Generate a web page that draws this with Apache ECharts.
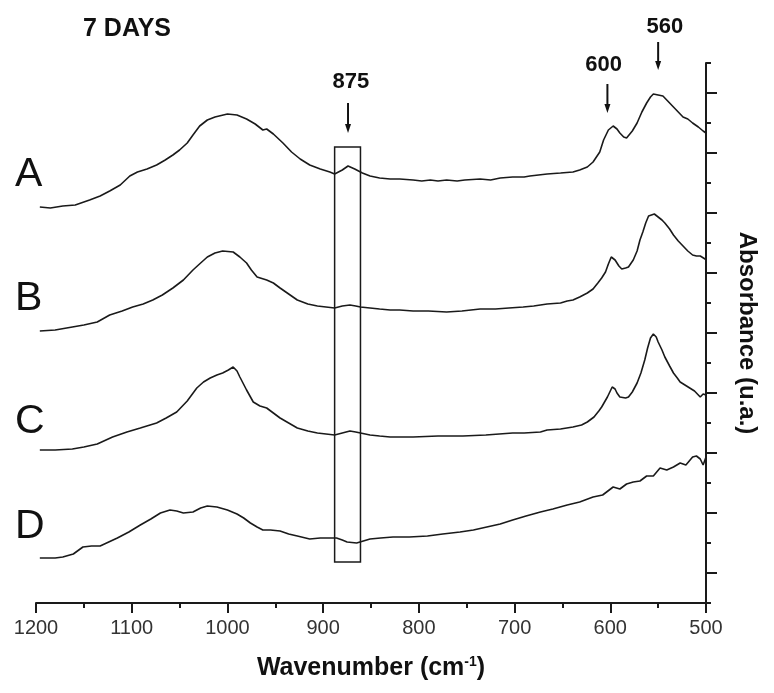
<!DOCTYPE html>
<html>
<head>
<meta charset="utf-8">
<script src="https://cdn.jsdelivr.net/npm/echarts@6/dist/echarts.min.js"></script>
<style>
html,body{margin:0;padding:0;background:#fff;}
#chart{width:774px;height:693px;}
</style>
</head>
<body>
<div id="chart"></div>
<script>
// ---------- data ----------
const xTicks = [1200, 1100, 1000, 900, 800, 700, 600, 500];
const curveNames = ['A', 'B', 'C', 'D'];

const wnA = [1196,1185,1172,1159,1144,1133,1123,1112,1102,1094,
  1084,1074,1065,1057,1050,1042,1036,1029,1021,1013,
  1000,990,980,971,963,959,952,942,933,924,
  914,903,893,888,880,874,867,859,851,841,
  830,820,806,797,788,780,771,760,752,736,
  725,715,702,690,684,666,652,639,632,624,
  618,611,607,602,597,593,590,586,583,577,
  572,567,562,558,555,550,545,540,534,529,
  524,519,514,508,503,500];
const absA = [396,395,397,398,403,407,412,418,427,431,
  434,438,443,448,453,460,468,477,483,486,
  489,488,484,479,473,474,469,460,451,444,
  438,434,431,429,433,437,434,430,427,425,
  424,424,423,422,423,422,423,422,423,424,
  423,425,426,426,427,429,430,431,433,436,
  441,451,463,473,477,474,470,466,465,472,
  480,491,500,506,509,508,507,502,496,491,
  486,484,480,476,472,470];

const wnB = [1196,1180,1162,1150,1136,1123,1110,1099,1088,1078,
  1068,1057,1046,1036,1028,1021,1013,1005,994,987,
  980,975,969,959,952,945,936,927,916,906,
  897,888,880,872,866,861,851,841,830,820,
  806,790,771,755,736,720,706,691,680,673,
  666,652,645,639,632,624,618,613,609,605,
  602,599,595,591,588,584,581,576,572,569,
  566,563,560,558,554,550,546,543,538,534,
  529,524,519,514,510,506,501,500];
const absB = [272,273,276,278,281,288,292,296,299,303,
  308,315,323,333,340,346,350,352,351,346,
  340,333,326,323,320,315,309,303,299,297,
  296,295,297,298,297,296,295,294,293,293,
  292,292,291,292,294,294,295,296,297,298,
  299,300,302,303,306,310,314,320,325,331,
  339,346,343,337,334,335,336,343,352,363,
  371,380,387,389,389,386,383,380,374,368,
  362,357,352,348,347,347,344,343];

const wnC = [1196,1180,1162,1150,1136,1120,1105,1091,1074,1064,
  1053,1042,1032,1025,1018,1011,1005,999,994,990,
  987,980,973,966,959,952,945,936,927,916,
  906,897,888,880,872,866,861,851,841,830,
  820,806,780,754,730,702,690,673,666,652,
  639,630,624,617,612,609,606,603,600,598,
  595,593,590,588,584,581,577,572,568,564,
  561,558,555,552,550,546,543,538,534,530,
  527,522,517,512,506,503,501,500];
const absC = [153,153,154,156,159,166,171,175,180,185,
  191,202,215,221,225,228,230,233,236,232,
  226,213,201,197,195,190,185,180,175,172,
  170,169,168,170,172,171,170,168,167,166,
  166,166,167,167,168,170,170,171,173,174,
  176,178,181,186,192,196,201,206,212,216,
  214,210,206,204,205,206,211,220,230,243,
  255,265,269,266,261,253,246,237,230,225,
  221,218,215,212,206,209,210,208];

const wnD = [1196,1180,1172,1161,1151,1142,1133,1124,1115,1103,
  1091,1080,1070,1060,1053,1046,1036,1028,1021,1011,
  1000,990,983,976,969,963,955,945,936,927,
  914,903,893,886,880,875,865,858,851,840,
  827,810,791,775,757,743,729,715,702,688,
  673,660,645,632,618,608,597,590,583,576,
  569,562,555,548,541,534,527,521,514,510,
  506,503,500];
const absD = [45,45,46,49,56,57,57,61,65,71,
  78,84,90,93,92,90,91,95,97,96,
  93,89,85,80,76,73,73,72,69,67,
  64,65,65,65,63,61,60,62,64,65,
  66,66,67,69,71,73,76,79,83,87,
  91,94,98,101,106,108,116,114,119,121,
  122,127,127,135,133,136,140,138,146,147,
  144,138,146];

// annotations: arrow wavenumber, arrow top, arrow tip, label wavenumber, label level
const peakLabels = ['875', '600', '560'];
const arrowWn = [874, 603, 550];
const arrowTop = [500, 519, 561];
const arrowTip = [470, 490, 533];
const labelWn = [871, 607, 543];
const labelLevel = [521, 538, 576];
// highlighted 875 band box: [wn start, wn end, low, high]
const boxRange = [888, 861, 41, 456];

// ---------- chart ----------
const FONT = '"Liberation Sans", Arial, Helvetica, sans-serif';
const INK = '#1a1a1a';
const chart = echarts.init(document.getElementById('chart'), null, {renderer: 'canvas'});

const curves = [[wnA, absA], [wnB, absB], [wnC, absC], [wnD, absD]];
const lineSeries = curves.map((c, k) => ({
  name: curveNames[k],
  type: 'line',
  data: c[0].map((w, i) => [w, c[1][i]]),
  symbol: 'none',
  smooth: false,
  silent: true,
  lineStyle: {color: INK, width: 1.6},
  animation: false
}));
lineSeries[0].markArea = {
  silent: true,
  itemStyle: {color: 'rgba(0,0,0,0)', borderColor: INK, borderWidth: 1.5},
  data: [[{coord: [boxRange[0], boxRange[2]]}, {coord: [boxRange[1], boxRange[3]]}]]
};

const annData = arrowWn.map((w, i) => [w, arrowTop[i], arrowTip[i], labelWn[i], labelLevel[i]]);

const option = {
  backgroundColor: '#fff',
  animation: false,
  title: {
    text: '7 DAYS',
    left: 83, top: 17, padding: 0,
    textStyle: {fontFamily: FONT, fontSize: 25, fontWeight: 'bold', color: '#111'}
  },
  grid: {left: 36, right: 68, top: 63, bottom: 90, containLabel: false},
  xAxis: {
    type: 'value',
    inverse: true,
    min: 500, max: 1200, interval: 100,
    axisLine: {show: true, lineStyle: {color: INK, width: 2}},
    axisTick: {show: true, length: 10, lineStyle: {color: INK, width: 2}},
    minorTick: {show: true, splitNumber: 2, length: 5, lineStyle: {color: INK, width: 2}},
    splitLine: {show: false},
    minorSplitLine: {show: false},
    axisLabel: {
      fontFamily: FONT, fontSize: 20, color: '#333', margin: 15,
      formatter: v => xTicks.indexOf(v) >= 0 ? String(v) : ''
    },
    name: 'Wavenumber (cm{sup|-1})',
    nameLocation: 'middle',
    nameGap: 52,
    nameTextStyle: {
      fontFamily: FONT, fontSize: 25, fontWeight: 'bold', color: '#111',
      rich: {sup: {fontFamily: FONT, fontSize: 14, fontWeight: 'bold', color: '#111', verticalAlign: 'top', padding: [0, 0, 12, 0]}}
    }
  },
  yAxis: {
    type: 'value',
    position: 'right',
    min: 0, max: 540, interval: 60,
    axisLine: {show: true, onZero: false, lineStyle: {color: INK, width: 2}},
    axisTick: {show: true, length: 5, lineStyle: {color: INK, width: 2}},
    minorTick: {show: true, splitNumber: 2, length: 11, lineStyle: {color: INK, width: 2}},
    splitLine: {show: false},
    minorSplitLine: {show: false},
    axisLabel: {show: false},
    name: 'Absorbance (u.a.)',
    nameLocation: 'middle',
    nameRotate: -90,
    nameGap: 29,
    nameTextStyle: {fontFamily: FONT, fontSize: 24, fontWeight: 'bold', color: '#111'}
  },
  graphic: [
    {type: 'text', left: 15, top: 154, style: {text: 'A', fontFamily: FONT, fontSize: 41, fill: '#111'}},
    {type: 'text', left: 15, top: 278, style: {text: 'B', fontFamily: FONT, fontSize: 41, fill: '#111'}},
    {type: 'text', left: 15, top: 401, style: {text: 'C', fontFamily: FONT, fontSize: 41, fill: '#111'}},
    {type: 'text', left: 15, top: 506, style: {text: 'D', fontFamily: FONT, fontSize: 41, fill: '#111'}}
  ],
  series: lineSeries.concat([{
    type: 'custom',
    clip: false,
    silent: true,
    data: annData,
    encode: {x: 0, y: 1},
    renderItem: function (params, api) {
      const i = params.dataIndex;
      const p1 = api.coord([api.value(0), api.value(1)]);
      const p2 = api.coord([api.value(0), api.value(2)]);
      const pl = api.coord([api.value(3), api.value(4)]);
      return {
        type: 'group',
        children: [
          {type: 'line', shape: {x1: p1[0], y1: p1[1], x2: p2[0], y2: p2[1] - 6},
           style: {stroke: '#111', lineWidth: 2}},
          {type: 'polygon', shape: {points: [[p2[0] - 3, p2[1] - 9], [p2[0] + 3, p2[1] - 9], [p2[0], p2[1]]]},
           style: {fill: '#111'}},
          {type: 'text', x: pl[0], y: pl[1],
           style: {text: peakLabels[i], fontFamily: FONT, fontSize: 22, fontWeight: 'bold',
                   fill: '#111', align: 'center', verticalAlign: 'middle'}}
        ]
      };
    }
  }])
};
chart.setOption(option);
</script>
</body>
</html>
